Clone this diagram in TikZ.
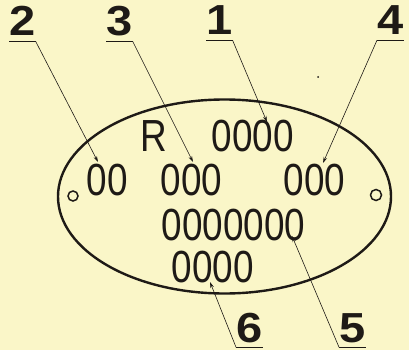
\documentclass[tikz,border=0pt]{standalone}
\usepackage{fontspec}
\usetikzlibrary{arrows.meta,positioning}
\newfontfamily\platefont[FakeStretch=0.82]{Liberation Sans}
\newfontfamily\calloutfont[FakeStretch=1.12]{Liberation Sans}
\definecolor{paper}{RGB}{250,246,200}
\definecolor{ink}{RGB}{30,26,22}

\begin{document}
\begin{tikzpicture}[
    x=1pt, y=-1pt,
    plate/.style={draw=ink, line width=2.4pt},
    hole/.style={draw=ink, line width=1.5pt},
    digits/.style={inner sep=0pt, anchor=base west, text=ink, font=\platefont\fontsize{45}{45}\selectfont},
    callout/.style={inner xsep=0pt, inner ysep=5pt, text depth=0pt, anchor=base west, text=ink, font=\calloutfont\bfseries\fontsize{42}{42}\selectfont},
    underline/.style={draw=ink, line width=1.2pt},
    lead/.style={draw=ink, line width=0.6pt, -{Stealth[length=6pt,width=3.6pt]}}
]

    % Fond et cadre
    \fill[paper] (0,0) rectangle (409,350);
    \useasboundingbox (0,0) rectangle (409,350);

    % Plaque ovale et trous de fixation
    \draw[plate] (224.5,196.5) ellipse [x radius=166.5, y radius=97];
    \draw[hole] (73,196) circle [radius=5];
    \draw[hole] (376,195) circle [radius=5.5];
    \fill[ink] (318,77) circle [radius=1];

    % Groupes de chiffres frappes
    \node[digits] (mark) at (140,151) {R};
    \node[digits] (row_a) at (211.5,151) {0000};
    \node[digits] (row_b1) at (86.5,195) {00};
    \node[digits] (row_b2) at (160.5,195) {000};
    \node[digits] (row_b3) at (283.5,195) {000};
    \node[digits] (row_c) at (161.5,240) {0000000};
    \node[digits] (row_d) at (171.5,282) {0000};

    % Points vises
    \coordinate (tip_1) at (267,122);
    \coordinate (tip_2) at (98,162);
    \coordinate (tip_3) at (193,162);
    \coordinate (tip_4) at (323,163);
    \coordinate (tip_5) at (292,236);
    \coordinate (tip_6) at (210,282);

    % Reperes numerotes
    \node[callout] (num_2) at (9,36) {2};
    \node[callout] (num_3) at (106,36) {3};
    \node[callout] (num_1) at (206,35) {1};
    \node[callout] (num_4) at (377,35) {4};
    \node[callout] (num_6) at (236,342) {6};
    \node[callout] (num_5) at (339,342) {5};

    % Soulignements et lignes de rappel
    \draw[underline] (num_2.south west) -- (num_2.south east);
    \draw[underline] (num_3.south west) -- (num_3.south east);
    \draw[underline] (num_1.south west) -- (num_1.south east);
    \draw[underline] (num_4.south west) -- (num_4.south east);
    \draw[underline] (num_6.south west) -- (num_6.south east);
    \draw[underline] (num_5.south west) -- (num_5.south east);

    \draw[lead] (num_2.south east) -- (tip_2);
    \draw[lead] (num_3.south east) -- (tip_3);
    \draw[lead] (num_1.south east) -- (tip_1);
    \draw[lead] (num_4.south west) -- (tip_4);
    \draw[lead] (num_6.south west) -- (tip_6);
    \draw[lead] (num_5.south west) -- (tip_5);

\end{tikzpicture}
\end{document}
